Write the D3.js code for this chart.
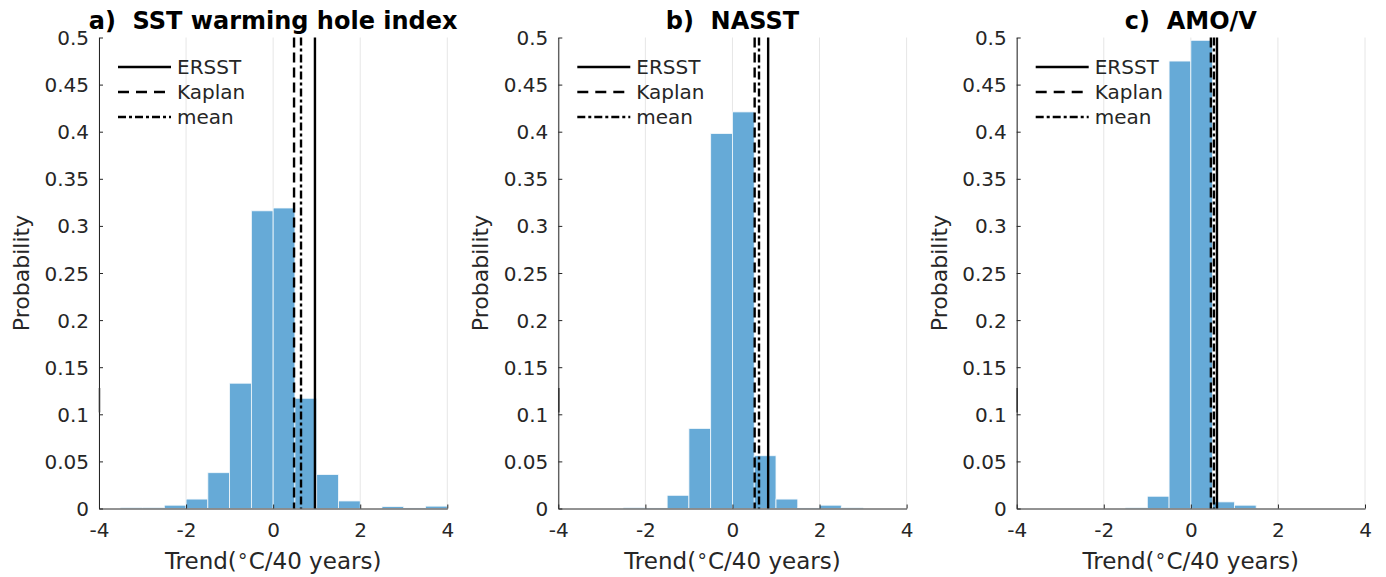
<!DOCTYPE html>
<html lang="en">
<head>
<meta charset="UTF-8" />
<title>Trend histograms</title>
<script src="https://d3js.org/d3.v7.min.js"></script>
<style>
  html, body { margin: 0; padding: 0; background: #fff; overflow: hidden; }
  svg { display: block; font-family: "DejaVu Sans", sans-serif; }
  .title { white-space: pre; }
</style>
</head>
<body>
<svg width="1386" height="577"></svg>
<script>
// bin left edges (degC / 40 years), bin width 0.5
const binStarts = [-4, -3.5, -3, -2.5, -2, -1.5, -1, -0.5, 0, 0.5, 1, 1.5, 2, 2.5, 3, 3.5];
const binWidth = 0.5;

const titles = ["a)  SST warming hole index", "b)  NASST", "c)  AMO/V"];

// probability per bin
const probWarmingHole = [0, 0.001, 0.001, 0.0035, 0.01, 0.038, 0.133, 0.316, 0.319, 0.117, 0.036, 0.008, 0, 0.002, 0.0005, 0.0025];
const probNASST       = [0, 0, 0, 0.0008, 0.0005, 0.014, 0.085, 0.398, 0.421, 0.056, 0.01, 0.0005, 0.0035, 0.0007, 0, 0];
const probAMO         = [0, 0, 0, 0, 0, 0.0007, 0.013, 0.475, 0.497, 0.007, 0.0035, 0, 0, 0, 0, 0];

// observed trends
const ersstTrend  = [0.96, 0.82, 0.60];
const kaplanTrend = [0.48, 0.51, 0.46];
const meanTrend   = [0.64, 0.61, 0.53];

const xTicks = [-4, -2, 0, 2, 4];
const yTicks = [0, 0.05, 0.1, 0.15, 0.2, 0.25, 0.3, 0.35, 0.4, 0.45, 0.5];

const legendNames = ["ERSST", "Kaplan", "mean"];

const probs = [probWarmingHole, probNASST, probAMO];

const svg = d3.select("svg");
const axLeft = [99, 558.3, 1016.7];
const axWidth = 348.3;
const yBottom = 508.5, yTop = 37.5;

const barColor = "#66aad7";
const axisColor = "#262626";
const dashKaplan = "10,5";
const dashMean = "8,3,3,3";

probs.forEach((p, i) => {
    const g = svg.append("g");
    const x = d3.scaleLinear().domain([-4, 4]).range([axLeft[i], axLeft[i] + axWidth]);
    const y = d3.scaleLinear().domain([0, 0.5]).range([yBottom, yTop]);

    // vertical grid
    g.append("g")
        .selectAll("line")
        .data(xTicks)
        .join("line")
        .attr("x1", d => x(d)).attr("x2", d => x(d))
        .attr("y1", yTop).attr("y2", yBottom)
        .attr("stroke", "#e6e6e6")
        .attr("stroke-width", 1);

    // histogram bars
    const bins = binStarts.map((b, j) => ({ x0: b, x1: b + binWidth, v: p[j] })).filter(d => d.v > 0);
    g.append("g")
        .selectAll("rect")
        .data(bins)
        .join("rect")
        .attr("x", d => x(d.x0))
        .attr("width", d => x(d.x1) - x(d.x0))
        .attr("y", d => y(d.v))
        .attr("height", d => yBottom - y(d.v))
        .attr("fill", barColor)
        .attr("stroke", "#f4f9fc")
        .attr("stroke-width", 0.8);

    // observed trend lines
    const vlines = [
        { v: kaplanTrend[i], dash: dashKaplan },
        { v: meanTrend[i], dash: dashMean },
        { v: ersstTrend[i], dash: null }
    ];
    g.append("g")
        .selectAll("line")
        .data(vlines)
        .join("line")
        .attr("x1", d => x(d.v)).attr("x2", d => x(d.v))
        .attr("y1", yTop).attr("y2", yBottom)
        .attr("stroke", "#000")
        .attr("stroke-width", 2.4)
        .attr("stroke-dasharray", d => d.dash);

    // axes (ticks point inward), plain hyphen for negatives
    const xAxis = g.append("g")
        .attr("transform", `translate(0,${yBottom})`)
        .call(d3.axisBottom(x).tickValues(xTicks).tickFormat(d => String(d)).tickSizeInner(-4).tickSizeOuter(0).tickPadding(10));
    const yAxis = g.append("g")
        .attr("transform", `translate(${axLeft[i]},0)`)
        .call(d3.axisLeft(y).tickValues(yTicks).tickFormat(d => String(+d.toFixed(2))).tickSizeInner(-4).tickSizeOuter(0).tickPadding(10));
    [xAxis, yAxis].forEach(a => {
        a.select(".domain").attr("stroke", axisColor).attr("stroke-width", 1);
        a.selectAll(".tick line").attr("stroke", axisColor);
        a.selectAll("text")
            .attr("fill", axisColor)
            .style("font-family", "DejaVu Sans")
            .style("font-size", "20px");
    });
    xAxis.selectAll("text").attr("dy", "0.9em");
    yAxis.selectAll("text").attr("dy", "0.35em");

    // small dark mark on the y axis near 0.1
    g.append("line")
        .attr("x1", axLeft[i] + 0.5).attr("x2", axLeft[i] + 0.5)
        .attr("y1", y(0.128)).attr("y2", y(0.102))
        .attr("stroke", "#333")
        .attr("stroke-width", 1.5);

    // title
    g.append("text")
        .attr("class", "title")
        .attr("x", axLeft[i] + axWidth / 2)
        .attr("y", 29)
        .attr("text-anchor", "middle")
        .style("font-size", "24px")
        .style("font-weight", "bold")
        .attr("fill", "#000")
        .text(titles[i]);

    // axis labels
    const xl = g.append("text")
        .attr("x", axLeft[i] + axWidth / 2)
        .attr("y", 569)
        .attr("text-anchor", "middle")
        .style("font-size", "23px")
        .attr("fill", axisColor);
    xl.append("tspan").text("Trend(");
    xl.append("tspan").text("\u2218").style("font-size", "19px").attr("dy", -7);
    xl.append("tspan").text("C/40 years)").attr("dy", 7);

    g.append("text")
        .attr("transform", `translate(${axLeft[i] - 70},${(yTop + yBottom) / 2}) rotate(-90)`)
        .attr("text-anchor", "middle")
        .style("font-size", "22px")
        .attr("fill", axisColor)
        .text("Probability");

    // legend
    const lx = axLeft[i] + 19;
    const legend = g.append("g");
    legendNames.forEach((name, k) => {
        const ly = 67 + k * 25;
        legend.append("line")
            .attr("x1", lx).attr("x2", lx + 53)
            .attr("y1", ly).attr("y2", ly)
            .attr("stroke", "#000")
            .attr("stroke-width", 2.4)
            .attr("stroke-dasharray", k === 0 ? null : (k === 1 ? "11,7" : "8,3,3,3"));
        legend.append("text")
            .attr("x", lx + 59)
            .attr("y", ly)
            .attr("dy", "0.36em")
            .style("font-size", "20px")
            .attr("fill", axisColor)
            .text(name);
    });
});
</script>
</body>
</html>
